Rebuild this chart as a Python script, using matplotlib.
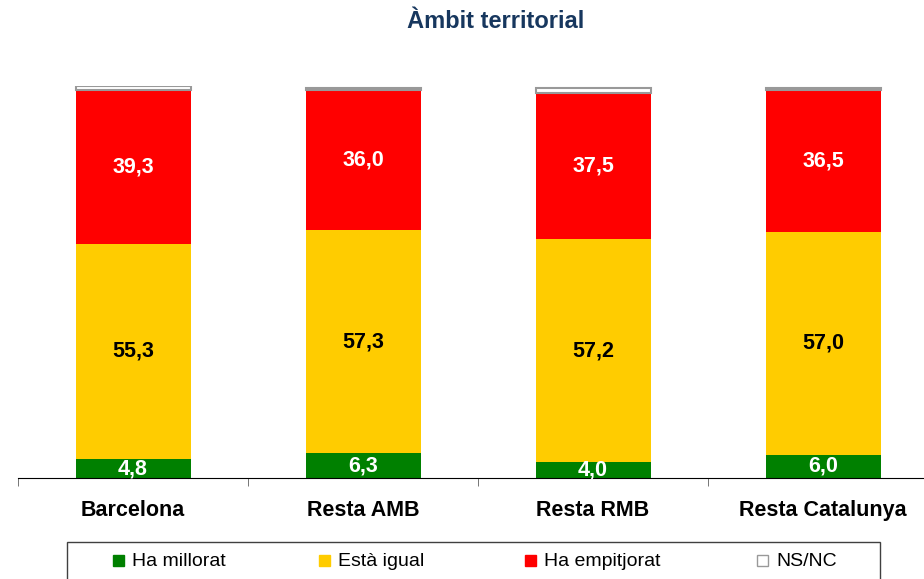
import numpy as np
import matplotlib.pyplot as plt
from matplotlib.patches import Rectangle

plt.rcParams['font.family'] = ['Liberation Sans', 'DejaVu Sans']

categories = ['Barcelona', 'Resta AMB', 'Resta RMB', 'Resta Catalunya']
millorat = [4.8, 6.3, 4.0, 6.0]
igual = [55.3, 57.3, 57.2, 57.0]
empitjorat = [39.3, 36.0, 37.5, 36.5]
nsnc = [1.2, 0.4, 1.3, 0.5]
series_names = ['Ha millorat', 'Està igual', 'Ha empitjorat', 'NS/NC']

fig = plt.figure(figsize=(9.24, 5.79), dpi=100)
ax = fig.add_axes([18/924, 101/579, 920/924, 392/579])

x = np.arange(len(categories))
w = 0.5
bottom = np.zeros(len(categories))
styles = [('#008000', 'none', 'white'), ('#FFCC00', 'none', 'black'),
          ('#FF0000', 'none', 'white'), ('white', '#999999', None)]
for vals, (fc, ec, tc) in zip([millorat, igual, empitjorat, nsnc], styles):
    vals = np.array(vals)
    if ec == 'none':
        ax.bar(x, vals, w, bottom=bottom, color=fc, edgecolor='none')
    else:
        ax.bar(x, vals, w, bottom=bottom, color=fc, edgecolor=ec, linewidth=1.5)
    if tc is not None:
        for xi, b, v in zip(x, bottom, vals):
            ax.text(xi, b + v/2, f'{v:.1f}'.replace('.', ','), ha='center', va='center',
                    color=tc, fontsize=15.5, fontweight='bold')
    bottom += vals

ax.set_xlim(-0.5, 3.5)
ax.set_ylim(0, 100.5)
ax.set_yticks([])
for s in ['top', 'right', 'left']:
    ax.spines[s].set_visible(False)
ax.spines['bottom'].set_color('black')
ax.set_xticks(x)
ax.set_xticklabels(categories, fontsize=15.5, fontweight='bold')
ax.tick_params(axis='x', which='major', length=0, pad=16)
ax.set_xticks(np.arange(-0.5, 4, 1), minor=True)
ax.tick_params(axis='x', which='minor', length=6, color='#606060', direction='out')

fig.text(496/924, 1 - 22/579, 'Àmbit territorial', ha='center', va='center',
         fontsize=17, fontweight='bold', color='#17375E')

# legend box
fig.patches.append(Rectangle((67/924, -0.01), (880 - 67)/924, 37/579 + 0.01,
                             transform=fig.transFigure, facecolor='white',
                             edgecolor='#404040', linewidth=1))
leg_x = [113, 319, 525, 757]
leg_y = 1 - 560/579
for lx, name, (fc, ec, _) in zip(leg_x, series_names, styles):
    fig.patches.append(Rectangle((lx/924, leg_y - 5.5/579), 11/924, 11/579,
                                 transform=fig.transFigure, facecolor=fc,
                                 edgecolor=(ec if ec != 'none' else fc), linewidth=1))
    fig.text((lx + 19)/924, leg_y, name, ha='left', va='center_baseline', fontsize=14)

fig.savefig('out.png', dpi=100)
